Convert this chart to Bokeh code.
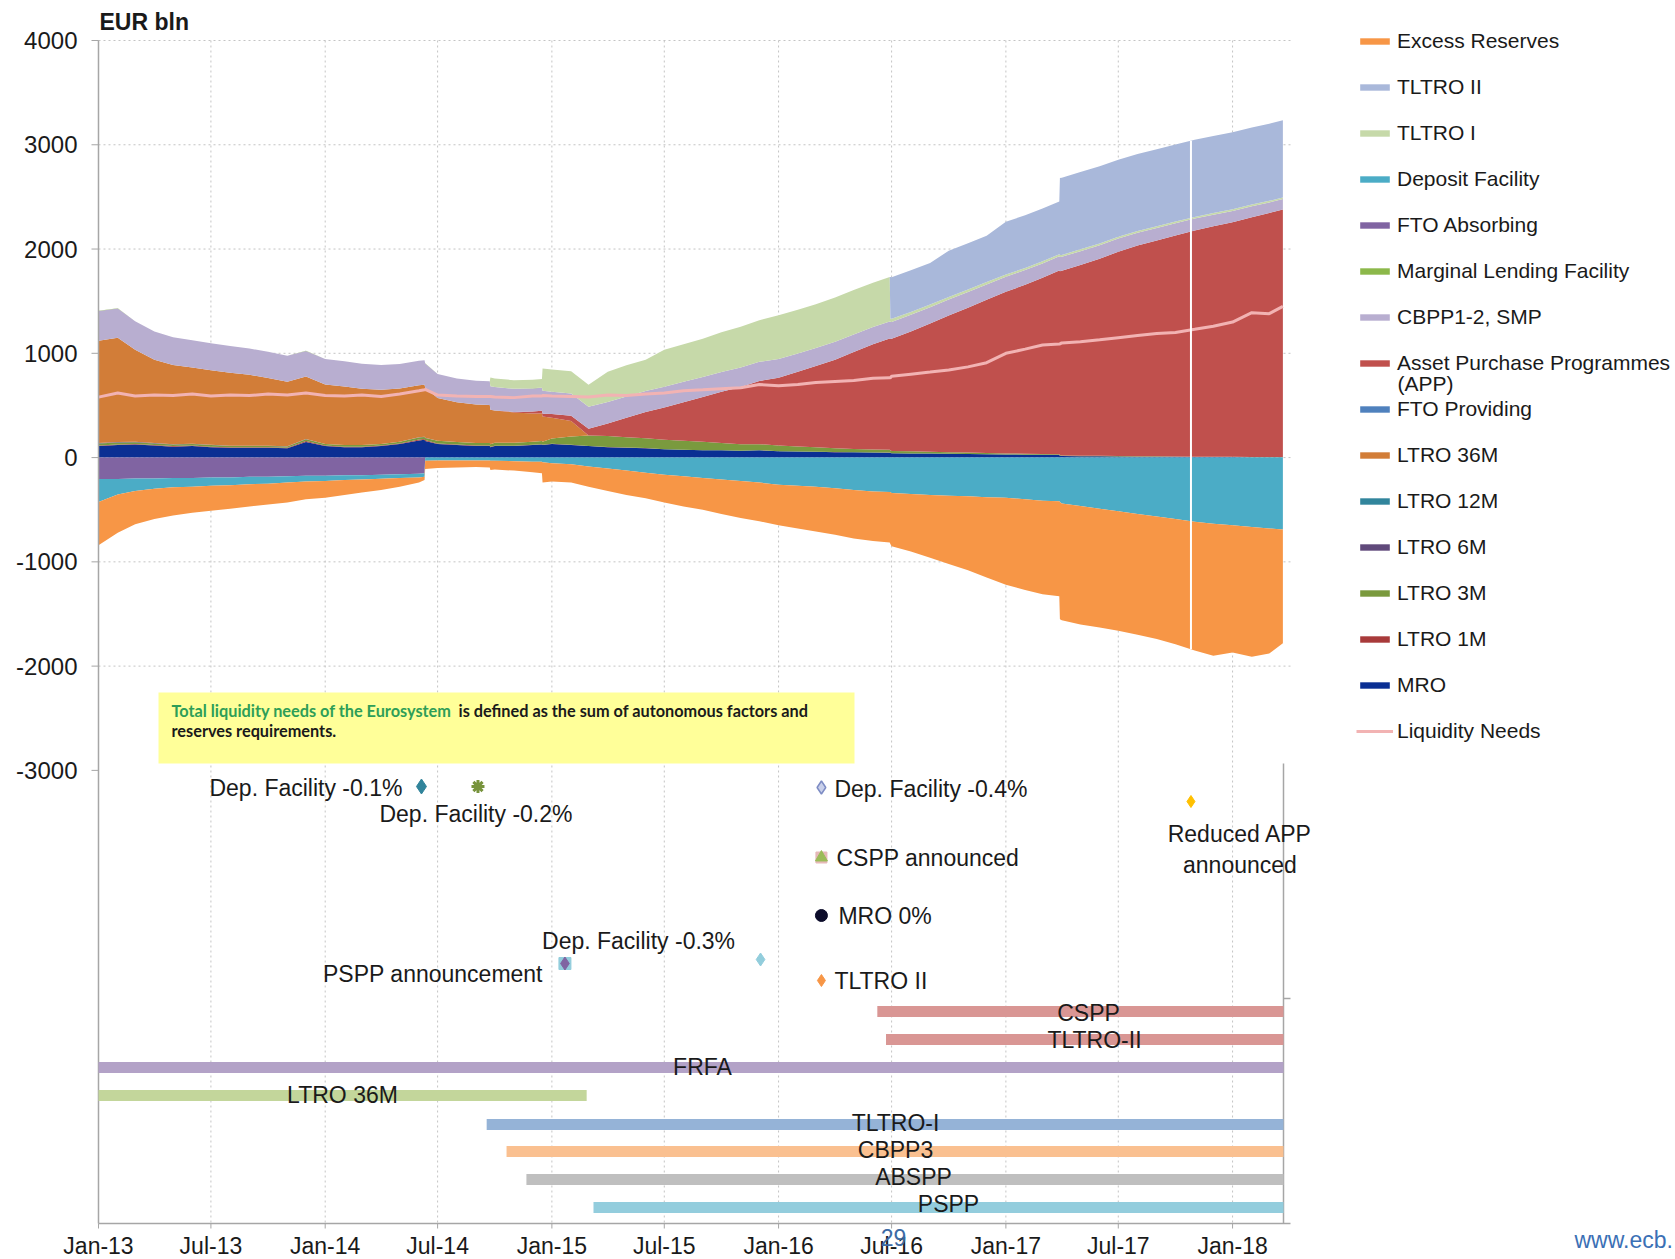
import numpy as np
import pandas as pd
from bokeh.plotting import figure
from bokeh.models import (Range1d, Legend, LegendItem, Label, BoxAnnotation)
from bokeh.core.properties import value
from bokeh.embed import file_html
from bokeh.resources import INLINE

FONT = "Liberation Sans"

# ---------------------------------------------------------------- data (EUR bln)
dates = [
    "2013-01-01", "2013-02-01", "2013-03-01", "2013-04-01", "2013-05-01", "2013-06-01",
    "2013-07-01", "2013-08-01", "2013-09-01", "2013-10-01", "2013-11-01", "2013-12-01",
    "2014-01-01", "2014-02-01", "2014-03-01", "2014-04-01", "2014-05-01", "2014-06-01",
    "2014-06-10", "2014-06-11", "2014-07-01", "2014-08-01", "2014-09-01", "2014-09-23",
    "2014-09-24", "2014-10-01", "2014-11-01", "2014-12-01", "2014-12-16", "2014-12-17",
    "2015-01-01", "2015-02-01", "2015-03-01", "2015-04-01", "2015-05-01", "2015-06-01",
    "2015-07-01", "2015-08-01", "2015-09-01", "2015-10-01", "2015-11-01", "2015-12-01",
    "2016-01-01", "2016-02-01", "2016-03-01", "2016-04-01", "2016-05-01", "2016-06-01",
    "2016-06-28", "2016-06-29", "2016-07-01", "2016-08-01", "2016-09-01", "2016-10-01",
    "2016-11-01", "2016-12-01",
    "2017-01-01", "2017-02-01", "2017-03-01", "2017-03-28", "2017-03-29", "2017-04-01",
    "2017-05-01", "2017-06-01", "2017-07-01", "2017-08-01", "2017-09-01", "2017-10-01",
    "2017-11-01", "2017-12-01",
    "2018-01-01", "2018-02-01", "2018-03-01", "2018-03-23",
]

mro = [110, 120, 125, 115, 105, 110, 100, 95, 95, 95, 90, 150,
       110, 100, 100, 110, 130, 165, 170, 160, 130, 120, 110, 110, 100, 110, 110, 120, 125, 120,
       130, 120, 110, 100, 95, 90, 80, 75, 70, 70, 65, 70,
       60, 58, 55, 52, 50, 48, 47, 45, 42, 40, 38, 36, 34, 32,
       30, 28, 26, 25, 18, 15, 13, 12, 10, 9, 8, 7, 6, 6,
       5, 4, 3, 3]
ltro_1m = [5, 5, 5, 5, 5, 5, 5, 5, 5, 5, 5, 8,
           5, 5, 5, 5, 6, 8, 8, 8, 6, 5, 5, 5, 4, 4, 3, 3, 3, 3,
           2, 2, 1, 1, 1, 1, 1, 1, 1, 1, 1, 1,
           1, 1, 1, 1, 1, 1, 1, 1, 0, 0, 0, 0, 0, 0,
           0, 0, 0, 0, 0, 0, 0, 0, 0, 0, 0, 0, 0, 0,
           0, 0, 0, 0]
ltro_3m = [20, 20, 18, 15, 15, 15, 15, 12, 12, 12, 12, 18,
           15, 15, 15, 15, 15, 20, 20, 20, 25, 25, 25, 25, 25, 28, 30, 30, 30, 30,
           50, 80, 100, 105, 100, 95, 90, 85, 80, 70, 62, 58,
           55, 48, 42, 36, 32, 28, 28, 25, 22, 20, 18, 16, 14, 12,
           10, 9, 8, 8, 7, 6, 5, 5, 4, 4, 4, 3, 3, 3,
           3, 2, 2, 2]
ltro_6m = [6, 5, 5, 4, 4, 3, 3, 2, 2, 2, 1, 1,
           1, 1, 1, 1, 1, 1, 1, 1, 0, 0, 0, 0, 0, 0, 0, 0, 0, 0,
           0, 0, 0, 0, 0, 0, 0, 0, 0, 0, 0, 0,
           0, 0, 0, 0, 0, 0, 0, 0, 0, 0, 0, 0, 0, 0,
           0, 0, 0, 0, 0, 0, 0, 0, 0, 0, 0, 0, 0, 0,
           0, 0, 0, 0]
ltro_12m = [0, 0, 0, 0, 0, 0, 0, 0, 0, 0, 0, 0,
            0, 0, 0, 0, 0, 0, 0, 0, 0, 0, 0, 0, 0, 0, 0, 0, 0, 0,
            0, 0, 0, 0, 0, 0, 0, 0, 0, 0, 0, 0,
            0, 0, 0, 0, 0, 0, 0, 0, 0, 0, 0, 0, 0, 0,
            0, 0, 0, 0, 0, 0, 0, 0, 0, 0, 0, 0, 0, 0,
            0, 0, 0, 0]
ltro_36m = [980, 1000, 880, 800, 760, 730, 715, 700, 680, 650, 620, 600,
            570, 560, 540, 520, 510, 500, 500, 480, 410, 380, 370, 365, 330, 310, 290, 270, 265, 240,
            200, 150, 0, 0, 0, 0, 0, 0, 0, 0, 0, 0,
            0, 0, 0, 0, 0, 0, 0, 0, 0, 0, 0, 0, 0, 0,
            0, 0, 0, 0, 0, 0, 0, 0, 0, 0, 0, 0, 0, 0,
            0, 0, 0, 0]
fto_providing = [0, 0, 0, 0, 0, 0, 0, 0, 0, 0, 0, 0,
                 0, 0, 0, 0, 0, 0, 0, 0, 0, 0, 0, 0, 0, 0, 0, 0, 0, 0,
                 0, 0, 0, 0, 0, 0, 0, 0, 0, 0, 0, 0,
                 0, 0, 0, 0, 0, 0, 0, 0, 0, 0, 0, 0, 0, 0,
                 0, 0, 0, 0, 0, 0, 0, 0, 0, 0, 0, 0, 0, 0,
                 0, 0, 0, 0]
app = [0, 0, 0, 0, 0, 0, 0, 0, 0, 0, 0, 0,
       0, 0, 0, 0, 0, 0, 0, 0, 0, 0, 0, 0, 0, 0, 5, 20, 27, 28,
       35, 50, 65, 120, 185, 250, 310, 370, 430, 490, 550, 605,
       650, 715, 780, 850, 930, 1010, 1065, 1067, 1075, 1150, 1230, 1310, 1390, 1470,
       1550, 1620, 1690, 1760, 1762, 1770, 1830, 1890, 1960, 2020, 2070, 2120, 2170, 2210,
       2250, 2300, 2340, 2375]
cbpp_smp = [285, 280, 275, 270, 265, 262, 258, 255, 252, 250, 248, 246,
            244, 242, 240, 238, 236, 234, 234, 234, 230, 228, 226, 226, 226, 224, 222, 220, 220, 220,
            215, 213, 211, 208, 205, 202, 199, 196, 193, 190, 187, 184,
            180, 177, 174, 171, 168, 165, 165, 165, 162, 159, 156, 153, 150, 147,
            144, 141, 138, 137, 137, 135, 132, 129, 126, 123, 120, 117, 114, 111,
            108, 105, 102, 100]
mlf = [1, 1, 0, 1, 0, 0, 1, 0, 0, 1, 0, 2,
       0, 1, 0, 0, 0, 1, 1, 1, 0, 0, 0, 0, 0, 0, 0, 1, 1, 1,
       0, 0, 0, 0, 0, 0, 0, 0, 0, 0, 0, 0,
       0, 0, 0, 0, 0, 0, 0, 0, 0, 0, 0, 0, 0, 0,
       0, 0, 0, 0, 0, 0, 0, 0, 0, 0, 0, 0, 0, 0,
       0, 0, 0, 0]
tltro_1 = [0, 0, 0, 0, 0, 0, 0, 0, 0, 0, 0, 0,
           0, 0, 0, 0, 0, 0, 0, 0, 0, 0, 0, 0, 82, 82, 82, 82, 82, 212,
           212, 212, 212, 290, 300, 300, 355, 360, 365, 380, 390, 400,
           418, 418, 418, 425, 425, 425, 425, 30, 30, 28, 25, 25, 23, 22,
           22, 20, 20, 20, 18, 18, 18, 17, 17, 16, 16, 16, 15, 15,
           15, 15, 15, 15]
tltro_2 = [0, 0, 0, 0, 0, 0, 0, 0, 0, 0, 0, 0,
           0, 0, 0, 0, 0, 0, 0, 0, 0, 0, 0, 0, 0, 0, 0, 0, 0, 0,
           0, 0, 0, 0, 0, 0, 0, 0, 0, 0, 0, 0,
           0, 0, 0, 0, 0, 0, 0, 399, 399, 399, 399, 444, 444, 444,
           506, 506, 506, 506, 740, 740, 740, 740, 740, 740, 740, 740, 740, 740,
           740, 740, 740, 740]
fto_absorbing = [-205, -205, -200, -200, -195, -195, -190, -190, -185, -185, -180, -175,
                 -175, -170, -170, -165, -160, -155, -150, 0, 0, 0, 0, 0, 0, 0, 0, 0, 0, 0,
                 0, 0, 0, 0, 0, 0, 0, 0, 0, 0, 0, 0,
                 0, 0, 0, 0, 0, 0, 0, 0, 0, 0, 0, 0, 0, 0,
                 0, 0, 0, 0, 0, 0, 0, 0, 0, 0, 0, 0, 0, 0,
                 0, 0, 0, 0]
deposit_facility = [-220, -150, -120, -100, -90, -85, -80, -75, -70, -65, -60, -55,
                    -50, -45, -40, -38, -35, -35, -35, -30, -28, -28, -28, -28, -30, -30, -35, -40, -40, -45,
                    -55, -65, -85, -105, -125, -145, -165, -180, -195, -210, -225, -240,
                    -260, -270, -280, -295, -310, -325, -330, -330, -340, -350, -360, -365, -370, -380,
                    -385, -400, -415, -420, -425, -440, -465, -490, -515, -540, -565, -590, -615, -635,
                    -650, -665, -680, -690]
excess_reserves = [-415, -365, -320, -290, -270, -250, -240, -225, -215, -200, -190, -170,
                   -160, -145, -125, -107, -85, -50, -30, -80, -72, -67, -62, -67, -90, -85, -90, -100, -110, -195,
                   -175, -175, -195, -215, -235, -245, -265, -290, -305, -330, -355, -370,
                   -390, -410, -430, -445, -465, -475, -485, -500, -510, -550, -600, -655, -710, -770,
                   -835, -870, -895, -910, -1125, -1120, -1135, -1140, -1145, -1160, -1175, -1200, -1235, -1265,
                   -1220, -1245, -1200, -1090]
liquidity_needs = [580, 620, 590, 600, 595, 610, 590, 600, 595, 610, 600, 620,
                   595, 590, 600, 585, 610, 640, 650, 655, 600, 590, 585, 585, 585, 580, 575, 590, 590, 595,
                   590, 585, 580, 600, 595, 610, 620, 640, 650, 660, 670, 700,
                   690, 700, 720, 730, 740, 760, 765, 765, 780, 800, 820, 840, 870, 910,
                   1000, 1040, 1080, 1090, 1090, 1100, 1110, 1130, 1150, 1170, 1190, 1200, 1230, 1260,
                   1300, 1390, 1380, 1450]

x_tick_dates = ["2013-01-01", "2013-07-01", "2014-01-01", "2014-07-01", "2015-01-01", "2015-07-01",
                "2016-01-01", "2016-07-01", "2017-01-01", "2017-07-01", "2018-01-01"]
x_tick_labels = ["Jan-13", "Jul-13", "Jan-14", "Jul-14", "Jan-15", "Jul-15",
                 "Jan-16", "Jul-16", "Jan-17", "Jul-17", "Jan-18"]
y_ticks = [-3000, -2000, -1000, 0, 1000, 2000, 3000, 4000]
y_tick_labels = ["-3000", "-2000", "-1000", "0", "1000", "2000", "3000", "4000"]
y_grid = [-2000, -1000, 0, 1000, 2000, 3000, 4000]

# policy events
event_dates = ["2014-06-05", "2014-09-04", "2015-01-22", "2015-12-03", "2016-03-10",
               "2016-03-10", "2016-03-10", "2016-03-10", "2017-10-26"]
event_labels = ["Dep. Facility -0.1%", "Dep. Facility -0.2%", "PSPP announcement",
                "Dep. Facility -0.3%", "Dep. Facility -0.4%", "CSPP announced", "MRO 0%",
                "TLTRO II", "Reduced APP\nannounced"]

# programmes (timeline bars)
programmes = ["CSPP", "TLTRO-II", "FRFA", "LTRO 36M", "TLTRO-I", "CBPP3", "ABSPP", "PSPP"]
prog_start = ["2016-06-08", "2016-06-22", "2008-10-15", "2011-12-21", "2014-09-18",
              "2014-10-20", "2014-11-21", "2015-03-09"]
prog_end = ["2018-03-24", "2018-03-24", "2018-03-24", "2015-02-26", "2018-03-24",
            "2018-03-24", "2018-03-24", "2018-03-24"]

n = len(dates)
for nm, s in [("mro", mro), ("ltro_1m", ltro_1m), ("ltro_3m", ltro_3m), ("ltro_6m", ltro_6m),
              ("ltro_12m", ltro_12m), ("ltro_36m", ltro_36m), ("fto_providing", fto_providing),
              ("app", app), ("cbpp_smp", cbpp_smp), ("mlf", mlf), ("tltro_1", tltro_1),
              ("tltro_2", tltro_2), ("fto_absorbing", fto_absorbing),
              ("deposit_facility", deposit_facility), ("excess_reserves", excess_reserves),
              ("liquidity_needs", liquidity_needs)]:
    assert len(s) == n, (nm, len(s), n)

# ---------------------------------------------------------------- layout (page pixels)
W, H = 1675, 1259
AX_L = 98                    # y axis line
AX_B = 1223                  # x axis line
PLOT_R = 1283                # right end of the data
X0, XE = pd.Timestamp("2013-01-01"), pd.Timestamp("2018-03-24")
PXU = 0.10427                # pixels per EUR bln
Y_4000_PX = 40


def px_x(px):
    return X0 + (XE - X0) * ((px - AX_L) / (PLOT_R - AX_L))


def px_y(py):
    return 4000 - (py - Y_4000_PX) / PXU


p = figure(width=W, height=H, x_axis_type="datetime", output_backend="svg",
           toolbar_location=None, x_axis_location=None, y_axis_location=None,
           x_range=Range1d(px_x(0), px_x(W)), y_range=Range1d(px_y(H), px_y(0)),
           min_border=0)
p.outline_line_color = None
p.background_fill_color = "white"
p.grid.visible = False

Y_AX_B = px_y(AX_B)
AXC = "#a6a6a6"
tick_ts = pd.to_datetime(x_tick_dates)

# dotted grid
GRID = dict(line_color="#c4c4c4", line_dash="2 3", line_width=1)
p.segment(x0=tick_ts, x1=tick_ts, y0=[4000] * len(tick_ts), y1=[Y_AX_B] * len(tick_ts), **GRID)
p.segment(x0=[X0] * len(y_grid), x1=[px_x(1290)] * len(y_grid), y0=y_grid, y1=y_grid, **GRID)

x = pd.to_datetime(dates)
xnum = np.array([pd.Timestamp(d).value / 1e6 for d in dates])

pos = [("mro", mro, "#0a2f93"), ("ltro_1m", ltro_1m, "#a83a3a"), ("ltro_3m", ltro_3m, "#7a9a3e"),
       ("ltro_6m", ltro_6m, "#604a7b"), ("ltro_12m", ltro_12m, "#31859c"),
       ("ltro_36m", ltro_36m, "#d27d38"), ("fto_providing", fto_providing, "#4f81bd"),
       ("app", app, "#c0504d"), ("cbpp_smp", cbpp_smp, "#b8aed0"), ("mlf", mlf, "#8cb84a"),
       ("tltro_1", tltro_1, "#c6d9a9"), ("tltro_2", tltro_2, "#a9b8da")]
neg = [("fto_absorbing", fto_absorbing, "#8064a2"),
       ("deposit_facility", deposit_facility, "#4bacc6"),
       ("excess_reserves", excess_reserves, "#f79646")]

R = {}
cum = np.zeros(n)
for nm, vals, col in pos:
    lo = cum.copy()
    cum = cum + np.array(vals, dtype=float)
    R[nm] = p.varea(x=x, y1=lo, y2=cum.copy(), fill_color=col)
top_total = cum.copy()
cum = np.zeros(n)
for nm, vals, col in neg:
    hi = cum.copy()
    cum = cum + np.array(vals, dtype=float)
    R[nm] = p.varea(x=x, y1=cum.copy(), y2=hi, fill_color=col)
bottom_total = cum.copy()

R["liq"] = p.line(x=x, y=liquidity_needs, line_color="#f2b3b3", line_width=3)

# white marker line at the "reduced APP" announcement
t_red = pd.Timestamp(event_dates[-1])
tv = t_red.value / 1e6
p.segment(x0=[t_red], x1=[t_red], y0=[np.interp(tv, xnum, bottom_total)],
          y1=[np.interp(tv, xnum, top_total)], line_color="white", line_width=2)

# y axis (drawn with the plot's own scales)
p.segment(x0=[X0], x1=[X0], y0=[Y_AX_B], y1=[4000], line_color=AXC, line_width=1.5)
p.segment(x0=[px_x(AX_L - 7)] * len(y_ticks), x1=[X0] * len(y_ticks), y0=y_ticks, y1=y_ticks,
          line_color=AXC, line_width=1)
p.text(x=[X0] * len(y_ticks), y=y_ticks, text=y_tick_labels, x_offset=-21,
       text_align="right", text_baseline="middle", text_font=value(FONT),
       text_font_size="24px", text_color="#1a1a1a")

# x axis
p.segment(x0=[X0], x1=[px_x(1290)], y0=[Y_AX_B], y1=[Y_AX_B], line_color=AXC, line_width=1.5)
p.segment(x0=tick_ts, x1=tick_ts, y0=[Y_AX_B] * len(tick_ts), y1=[px_y(AX_B + 5)] * len(tick_ts),
          line_color=AXC, line_width=1)
p.text(x=tick_ts, y=[Y_AX_B] * len(tick_ts), text=x_tick_labels, y_offset=22,
       text_align="center", text_baseline="middle", text_font=value(FONT),
       text_font_size="23px", text_color="#1a1a1a")

# right border of the lower timeline panel
p.segment(x0=[px_x(1283)], x1=[px_x(1283)], y0=[px_y(763)], y1=[Y_AX_B],
          line_color=AXC, line_width=1.5)
p.segment(x0=[px_x(1283)], x1=[px_x(1290)], y0=[px_y(998)], y1=[px_y(998)],
          line_color=AXC, line_width=1.5)

# yellow note box
box = BoxAnnotation(left=px_x(158).value / 1e6, right=px_x(854).value / 1e6,
                    top=px_y(692), bottom=px_y(763), fill_color="#ffff99", fill_alpha=1,
                    line_color=None)
p.add_layout(box)
p.segment(x0=[px_x(171)], x1=[px_x(453)], y0=[px_y(719)], y1=[px_y(719)],
          line_color="#2e9e57", line_width=1.2)


def lab(text, px, py, size="23px", align="left", color="#1a1a1a", font=FONT, style="normal"):
    p.add_layout(Label(x=px, y=H - py, x_units="screen", y_units="screen", text=text,
                       text_font=font, text_font_size=size, text_align=align,
                       text_baseline="middle", text_color=color, text_font_style=style))


lab("Total liquidity needs of the Eurosystem", 171, 710, size="16.3px", color="#2e9e57",
    font="Lato", style="bold")
lab("is defined as the sum of autonomous  factors and", 458, 710, size="16.3px",
    font="Lato", style="bold")
lab("reserves requirements.", 171, 729.5, size="16.3px", font="Lato", style="bold")

# events
ev_layout = [
    dict(py=786, marks=[("diamond", 15, "#31849b", "#31849b", 1)], align="right", dx=-19, dy=1),
    dict(py=786, marks=[("asterisk", 13, None, "#77933c", 3)], align="center", dx=-2, dy=27),
    dict(py=963, marks=[("square", 12, "#92cddc", "#92cddc", 1),
                        ("diamond", 13, "#8064a2", "#8064a2", 1)], align="right", dx=-22, dy=10),
    dict(py=959, marks=[("diamond", 13, "#92cddc", "#92cddc", 1)], align="center", dx=-122, dy=-19),
    dict(py=787, marks=[("diamond", 13, "#c9d0ea", "#7d8cc4", 1.5)], align="left", dx=13, dy=1),
    dict(py=857, marks=[("square", 11, "#e6b9b8", "#e6b9b8", 1),
                        ("triangle", 12, "#9bbb59", "#9bbb59", 1)], align="left", dx=15, dy=0),
    dict(py=915, marks=[("circle", 12, "#0c0c2a", "#0c0c2a", 1)], align="left", dx=17, dy=0),
    dict(py=980, marks=[("diamond", 12, "#f79646", "#f79646", 1)], align="left", dx=13, dy=0),
    dict(py=801, marks=[("diamond", 12, "#ffc000", "#ffc000", 1)], align="center", dx=49, dy=19,
         baseline="top"),
]
for d, txt, lay in zip(event_dates, event_labels, ev_layout):
    t = pd.Timestamp(d)
    yy = px_y(lay["py"])
    for mk, sz, fc, lc, lw in lay["marks"]:
        p.scatter(x=[t], y=[yy], marker=mk, size=sz, fill_color=fc, line_color=lc, line_width=lw)
    p.text(x=[t], y=[yy], text=[txt], x_offset=lay["dx"], y_offset=lay["dy"],
           text_align=lay["align"], text_baseline=lay.get("baseline", "middle"),
           text_font=value(FONT), text_font_size="23px", text_color="#1a1a1a")

# programme bars (drawn from the start of the chart's period)
prog_lane_px = [1011, 1039, 1067, 1095, 1124, 1151, 1179, 1207]
prog_colors = ["#d99694", "#d99694", "#b3a2c7", "#c3d69b", "#95b3d7", "#fac090", "#bfbfbf", "#93cddd"]
bar_left = [max(pd.Timestamp(s), X0) for s in prog_start]
p.hbar(y=[px_y(v) for v in prog_lane_px], left=bar_left,
       right=pd.to_datetime(prog_end), height=11 / PXU, fill_color=prog_colors,
       line_color=None)
prog_label_px = [(1088, 1012), (1094, 1039), (702, 1066), (342, 1094), (895, 1122),
                 (895, 1149), (913, 1176), (948, 1203)]
for name, (cx, cy) in zip(programmes, prog_label_px):
    lab(name, cx, cy, align="center")

# legend
legend_items = [("Excess Reserves", "excess_reserves"), ("TLTRO II", "tltro_2"),
                ("TLTRO I", "tltro_1"), ("Deposit Facility", "deposit_facility"),
                ("FTO Absorbing", "fto_absorbing"), ("Marginal Lending Facility", "mlf"),
                ("CBPP1-2, SMP", "cbpp_smp"), ("Asset Purchase Programmes", "app"),
                ("FTO Providing", "fto_providing"), ("LTRO 36M", "ltro_36m"),
                ("LTRO 12M", "ltro_12m"), ("LTRO 6M", "ltro_6m"), ("LTRO 3M", "ltro_3m"),
                ("LTRO 1M", "ltro_1m"), ("MRO", "mro"), ("Liquidity Needs", "liq")]
legend = Legend(items=[LegendItem(label=l, renderers=[R[k]]) for l, k in legend_items],
                location=(1356, H - 742.6), padding=0, margin=0, spacing=22,
                label_height=24, glyph_height=8, glyph_width=37, label_standoff=4,
                label_text_font=FONT, label_text_font_size="21px", label_text_color="#1a1a1a",
                border_line_color=None, background_fill_alpha=0)
p.add_layout(legend)
lab("(APP)", 1397, 383, size="21px")

lab("EUR bln", 99, 21.5, size="23px", style="bold")
lab("29", 893, 1237, align="center", color="#3c6aa5")
lab("www.ecb.", 1574, 1239, color="#3b70b5")

open("out.html", "w").write(file_html(p, INLINE))
